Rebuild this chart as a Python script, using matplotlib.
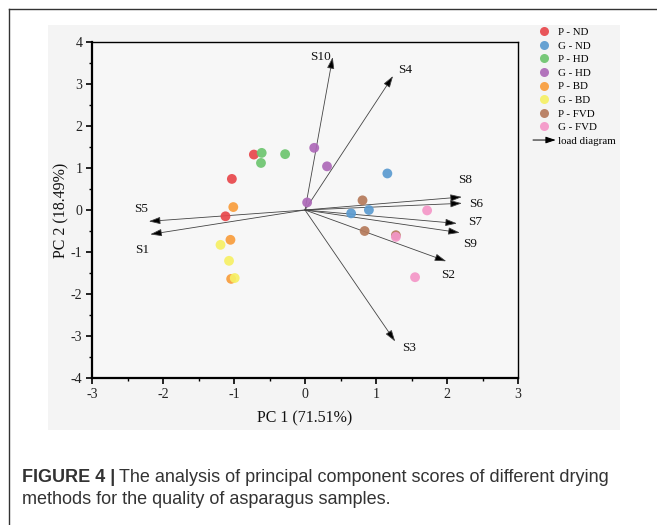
import matplotlib
matplotlib.use("Agg")
import matplotlib.pyplot as plt
import matplotlib.patches as mpatches
from matplotlib.lines import Line2D
from matplotlib.legend_handler import HandlerBase
from matplotlib.ticker import MultipleLocator

plt.rcParams["axes.unicode_minus"] = False

# ---------------- data ----------------
groups = ["P - ND", "G - ND", "P - HD", "G - HD", "P - BD", "G - BD", "P - FVD", "G - FVD"]
colors = ["#E8474C", "#5B9BD0", "#6DC56F", "#AD69B8", "#F99D3C", "#F6F064", "#B57A5B", "#F497C8"]

pnd_x = [-0.72, -1.03, -1.12]
pnd_y = [1.32, 0.74, -0.15]
gnd_x = [1.16, 0.65, 0.90]
gnd_y = [0.87, -0.08, 0.00]
phd_x = [-0.61, -0.62, -0.28]
phd_y = [1.36, 1.12, 1.33]
ghd_x = [0.13, 0.31, 0.03]
ghd_y = [1.48, 1.04, 0.18]
pbd_x = [-1.01, -1.05, -1.04]
pbd_y = [0.07, -0.71, -1.64]
gbd_x = [-1.19, -1.07, -0.99]
gbd_y = [-0.83, -1.21, -1.62]
pfvd_x = [0.81, 0.84, 1.28]
pfvd_y = [0.23, -0.50, -0.60]
gfvd_x = [1.72, 1.55, 1.28]
gfvd_y = [-0.01, -1.60, -0.64]

score_x = [pnd_x, gnd_x, phd_x, ghd_x, pbd_x, gbd_x, pfvd_x, gfvd_x]
score_y = [pnd_y, gnd_y, phd_y, ghd_y, pbd_y, gbd_y, pfvd_y, gfvd_y]

load_names = ["S10", "S4", "S8", "S6", "S7", "S9", "S2", "S3", "S5", "S1"]
load_x = [0.39, 1.24, 2.21, 2.21, 2.14, 2.18, 1.99, 1.27, -2.20, -2.18]
load_y = [3.64, 3.19, 0.31, 0.16, -0.32, -0.54, -1.22, -3.13, -0.27, -0.58]

x_ticks = [-3, -2, -1, 0, 1, 2, 3]
y_ticks = [-4, -3, -2, -1, 0, 1, 2, 3, 4]

# label offsets (pixels, right/down) relative to arrow tip
label_off = {"S10": (-12, 0), "S4": (12, -6), "S8": (3, -17), "S6": (14, 1),
             "S7": (18, -1), "S9": (10, 11), "S2": (2, 14), "S3": (14, 7),
             "S5": (-8, -12), "S1": (-8, 16)}

serif = ["Liberation Serif", "DejaVu Serif"]

W, H = 657, 525
fig = plt.figure(figsize=(W / 100, H / 100), dpi=100)
fig.patch.set_facecolor("white")

# grey panel behind chart
fig.patches.append(mpatches.Rectangle((48 / W, 1 - 430 / H), (620 - 48) / W, (430 - 25) / H,
                                      transform=fig.transFigure, facecolor="#f4f4f4",
                                      edgecolor="none", zorder=-10))
# outer frame lines
fig.add_artist(Line2D([8.5 / W, 1.0], [1 - 8.5 / H, 1 - 8.5 / H], transform=fig.transFigure,
                      color="#333333", lw=1.0))
fig.add_artist(Line2D([8.5 / W, 8.5 / W], [0, 1 - 8.5 / H], transform=fig.transFigure,
                      color="#333333", lw=1.0))

ax = fig.add_axes([92 / W, 1 - 378 / H, (518 - 92) / W, (378 - 42) / H])
ax.set_zorder(1)
ax.set_facecolor("#f7f7f7")
ax.set_xlim(-3, 3)
ax.set_ylim(-4, 4)
ax.set_xticks(x_ticks)
ax.set_yticks(y_ticks)
ax.xaxis.set_minor_locator(MultipleLocator(0.5))
ax.yaxis.set_minor_locator(MultipleLocator(0.5))
ax.tick_params(which="major", direction="out", length=4, width=1.2, labelsize=10, pad=3)
ax.tick_params(which="minor", direction="out", length=2.5, width=1.0)
for lab in ax.get_xticklabels() + ax.get_yticklabels():
    lab.set_family(serif)
    lab.set_color("#222222")
ax.spines["left"].set_linewidth(1.6)
ax.spines["bottom"].set_linewidth(1.6)
ax.spines["top"].set_linewidth(1.0)
ax.spines["right"].set_linewidth(1.0)

ax.set_xlabel("PC 1 (71.51%)", family=serif, fontsize=11.5, labelpad=7, color="#111111")
ax.set_ylabel("PC 2 (18.49%)", family=serif, fontsize=11.5, labelpad=1, color="#111111")

# loading arrows
for name, lx, ly in zip(load_names, load_x, load_y):
    ax.annotate("", xy=(lx, ly), xytext=(0, 0),
                arrowprops=dict(arrowstyle="-|>,head_length=0.7,head_width=0.22",
                                color="#444444", lw=0.6, shrinkA=0, shrinkB=0,
                                mutation_scale=10, fc="black"), zorder=2)
    dx, dy = label_off[name]
    ax.annotate(name, xy=(lx, ly), xytext=(dx * 0.72, -dy * 0.72), textcoords="offset points",
                ha="center", va="center", family=serif, fontsize=9.5, color="#111111", zorder=4)

# scores
for g, c, xs, ys in zip(groups, colors, score_x, score_y):
    ax.scatter(xs, ys, s=50, color=c, edgecolors="none", alpha=0.92, zorder=3)


class ArrowHandler(HandlerBase):
    def create_artists(self, legend, orig_handle, xdescent, ydescent, width, height, fontsize, trans):
        y = height / 2 - ydescent
        arr = mpatches.FancyArrowPatch((-xdescent, y), (-xdescent + width, y),
                                       arrowstyle="-|>,head_length=0.6,head_width=0.2",
                                       mutation_scale=10, color="black", lw=0.7,
                                       shrinkA=0, shrinkB=0, transform=trans)
        return [arr]


handles = [Line2D([], [], linestyle="none", marker="o", markersize=6.5, markerfacecolor=c,
                  markeredgecolor="none", alpha=0.92) for c in colors]
arrow_handle = mpatches.Patch()
handles.append(arrow_handle)
labels = groups + ["load diagram"]
leg = fig.legend(handles, labels, loc="upper left", bbox_to_anchor=(533 / W, 1 - 27.5 / H),
                 frameon=False, prop={"family": serif, "size": 7.8}, labelspacing=0.37,
                 handlelength=2.1, handletextpad=0.25, borderpad=0, borderaxespad=0,
                 handler_map={arrow_handle: ArrowHandler()})

# caption
fig.canvas.draw()
renderer = fig.canvas.get_renderer()
cap_font = ["Liberation Sans Narrow", "Liberation Sans"]
t1 = fig.text(22 / W, 1 - 478 / H, "FIGURE 4 |", family=cap_font, fontweight="bold",
              fontsize=13, color="#333333", va="center", ha="left")
bb = t1.get_window_extent(renderer)
fig.text((bb.x1 + 4) / W, 1 - 478 / H,
         "The analysis of principal component scores of different drying",
         family=cap_font, fontsize=13, color="#333333", va="center", ha="left")
fig.text(22 / W, 1 - 500 / H, "methods for the quality of asparagus samples.",
         family=cap_font, fontsize=13, color="#333333", va="center", ha="left")

fig.savefig("out.png", dpi=100)
